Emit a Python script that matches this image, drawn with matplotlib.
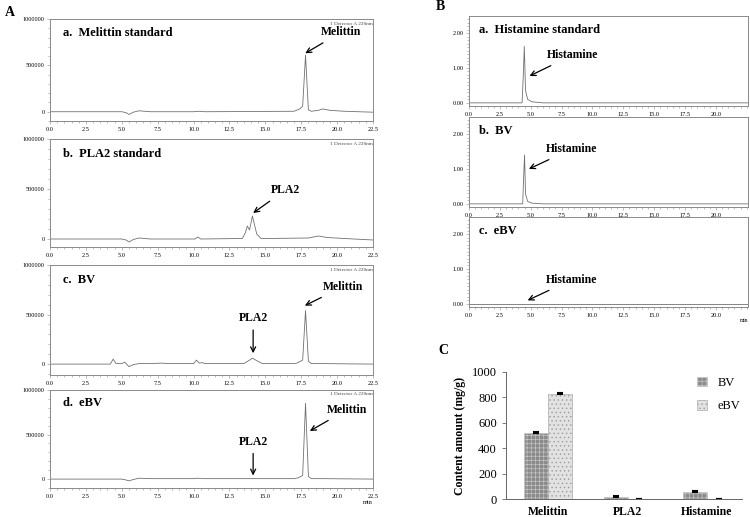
import matplotlib.pyplot as plt
from matplotlib.ticker import MultipleLocator, FixedLocator

plt.rcParams['font.family'] = ['Liberation Serif', 'DejaVu Serif']

# ---- panel A chromatograms (time in min, signal) ----
t_mel_std = [0, 5.0, 5.3, 5.5, 5.8, 6.2, 7.0, 10.0, 10.4, 10.8, 17.0, 17.4, 17.6, 17.8, 18.0, 18.2, 18.7, 19.0, 19.5, 20.5, 22.5]
y_mel_std = [0, 0, -10000, -30000, -5000, 10000, 0, 0, 5000, 0, 5000, 30000, 60000, 610000, 20000, 5000, 15000, 30000, 15000, 5000, -5000]

t_pla_std = [0, 5.0, 5.3, 5.5, 5.8, 6.2, 7.0, 10.1, 10.3, 10.5, 13.4, 13.6, 13.75, 13.9, 14.1, 14.4, 14.7, 15.2, 18.0, 18.7, 19.3, 20.5, 22.5]
y_pla_std = [0, 0, -10000, -30000, -5000, 10000, 0, 0, 20000, 0, 5000, 60000, 130000, 90000, 230000, 50000, 5000, 5000, 10000, 30000, 15000, 5000, -10000]

t_bv = [0, 4.2, 4.4, 4.6, 5.0, 5.2, 5.5, 5.8, 6.2, 7.0, 7.8, 8.2, 10.0, 10.2, 10.4, 10.6, 10.8, 13.5, 13.9, 14.1, 14.4, 14.8, 17.0, 17.2, 17.6, 17.8, 18.0, 18.2, 19.0, 22.5]
y_bv = [0, 0, 50000, 5000, 5000, 20000, -25000, -5000, 5000, 5000, 10000, 5000, 5000, 40000, 10000, 15000, 5000, 5000, 40000, 60000, 35000, 5000, 5000, 10000, 40000, 540000, 30000, 5000, 5000, 0]

t_ebv = [0, 5.0, 5.3, 5.5, 5.8, 6.2, 7.0, 10.0, 10.3, 10.6, 17.0, 17.3, 17.6, 17.8, 18.0, 18.2, 19.0, 22.5]
y_ebv = [0, 0, -10000, -20000, -5000, 10000, 5000, 5000, 10000, 5000, 5000, 15000, 40000, 850000, 30000, 5000, 5000, 0]

# ---- panel B chromatograms (histamine) ----
t_his_std = [0, 4.30, 4.40, 4.48, 4.58, 4.75, 5.1, 6.0, 22.6]
y_his_std = [0.0, 0.0, 0.8, 1.62, 0.35, 0.1, 0.03, 0.0, 0.0]
t_his_bv = [0, 4.35, 4.42, 4.50, 4.58, 4.75, 5.1, 6.0, 22.6]
y_his_bv = [0.0, 0.0, 0.7, 1.40, 0.28, 0.07, 0.02, 0.0, 0.0]
t_his_ebv = [0, 22.6]
y_his_ebv = [0.0, 0.0]

# ---- panel C content amounts ----
compounds = ['Melittin', 'PLA2', 'Histamine']
bv_amount = [522, 18, 58]
ebv_amount = [830, 0, 1]
bv_err = [5, 4, 3]
ebv_err = [5, 0, 0]

W, H = 750, 517
fig = plt.figure(figsize=(7.5, 5.17), dpi=100)


def rect(l, t, r, b):
    return [l / W, 1 - b / H, (r - l) / W, (b - t) / H]


trace_col = '#707070'
spine_col = '#8a8a8a'


def style_chrom(ax, xlim, ylim, xmaj, xmin_, ymaj, ymin_, yfmt):
    ax.set_xlim(*xlim)
    ax.set_ylim(*ylim)
    ax.xaxis.set_major_locator(FixedLocator(xmaj))
    ax.xaxis.set_minor_locator(MultipleLocator(xmin_))
    ax.yaxis.set_major_locator(FixedLocator(ymaj))
    ax.yaxis.set_minor_locator(MultipleLocator(ymin_))
    ax.set_xticklabels(['%.1f' % v for v in xmaj])
    ax.set_yticklabels([yfmt(v) for v in ymaj])
    ax.tick_params(which='both', labelsize=4.5, width=0.4, color=spine_col, pad=1.5)
    ax.tick_params(which='major', length=2.5)
    ax.tick_params(which='minor', length=1.5)
    for s in ax.spines.values():
        s.set_color(spine_col)
        s.set_linewidth(0.7)


def arrow(ax, text, xytext, xy, fs=8.5):
    ax.annotate(text, xy=xy, xytext=xytext, ha='center', va='center',
                fontsize=fs, fontweight='bold',
                arrowprops=dict(arrowstyle='->', color='black', lw=0.9,
                                shrinkA=3, shrinkB=0, mutation_scale=9))


def down_arrow(ax, text, xytext, xy):
    ax.annotate(text, xy=xy, xytext=xytext, ha='center', va='bottom',
                fontsize=8.5, fontweight='bold',
                arrowprops=dict(arrowstyle='->', color='black', lw=0.9,
                                shrinkA=2, shrinkB=0, mutation_scale=9))


xA = [0, 2.5, 5, 7.5, 10, 12.5, 15, 17.5, 20, 22.5]
yA = [0, 500000, 1000000]
fmtA = lambda v: '%d' % v

panelA = [
    (t_mel_std, y_mel_std, (19, 121), -100000, 'a.  Melittin standard'),
    (t_pla_std, y_pla_std, (139, 247), -80000, 'b.  PLA2 standard'),
    (t_bv, y_bv, (265, 375), -110000, 'c.  BV'),
    (t_ebv, y_ebv, (390, 488), -100000, 'd.  eBV'),
]
axA = []
for t, y, (top, bot), ylo, title in panelA:
    ax = fig.add_axes(rect(50, top, 373, bot))
    ax.plot(t, y, color=trace_col, lw=0.6)
    style_chrom(ax, (0, 22.5), (ylo, 1000000), xA, 0.5, yA, 100000, fmtA)
    ax.text(0.9, 850000, title, fontsize=9, fontweight='bold', va='center')
    ax.text(0.998, 0.975, '1 Detector A 220nm', transform=ax.transAxes,
            ha='right', va='top', fontsize=3.8, color='#444444')
    axA.append(ax)

arrow(axA[0], 'Melittin', (20.3, 860000), (17.78, 630000))
arrow(axA[1], 'PLA2', (16.4, 490000), (14.15, 260000))
arrow(axA[2], 'Melittin', (20.4, 780000), (17.75, 590000))
down_arrow(axA[2], 'PLA2', (14.15, 400000), (14.15, 110000))
arrow(axA[3], 'Melittin', (20.7, 780000), (18.1, 540000))
down_arrow(axA[3], 'PLA2', (14.15, 350000), (14.15, 40000))
axA[3].text(1.0, -0.12, 'min', transform=axA[3].transAxes, ha='right', va='top', fontsize=4.5)

# ---- panel B ----
xB = [0, 2.5, 5, 7.5, 10, 12.5, 15, 17.5, 20]
yB = [0, 1, 2]
fmtB = lambda v: '%.2f' % v
panelB = [
    (t_his_std, y_his_std, (16, 106), 'a.  Histamine standard'),
    (t_his_bv, y_his_bv, (117, 207), 'b.  BV'),
    (t_his_ebv, y_his_ebv, (217, 307), 'c.  eBV'),
]
axB = []
for t, y, (top, bot), title in panelB:
    ax = fig.add_axes(rect(469, top, 748, bot))
    ax.plot(t, y, color=trace_col, lw=0.6)
    style_chrom(ax, (0, 22.6), (-0.09, 2.49), xB, 0.5, yB, 0.1, fmtB)
    ax.text(0.8, 2.08, title, fontsize=9, fontweight='bold', va='center')
    axB.append(ax)

arrow(axB[0], 'Histamine', (8.4, 1.37), (4.9, 0.77))
arrow(axB[1], 'Histamine', (8.3, 1.57), (4.85, 1.0))
arrow(axB[2], 'Histamine', (8.3, 0.69), (4.75, 0.1))
axB[2].text(1.0, -0.12, 'min', transform=axB[2].transAxes, ha='right', va='top', fontsize=4)

# ---- panel C ----
plt.rcParams['hatch.linewidth'] = 0.5
axC = fig.add_axes(rect(506, 372, 742, 499))
pos = list(range(len(compounds)))
w = 0.3
ekw = dict(ecolor='black', elinewidth=1, capsize=2, capthick=1.5)
axC.bar([p - w / 2 for p in pos], bv_amount, w, yerr=bv_err, color='#8a8a8a',
        edgecolor='#c4c4c4', hatch='++++', lw=0.4, label='BV', error_kw=ekw)
axC.bar([p + w / 2 for p in pos], ebv_amount, w, yerr=ebv_err, color='#e2e2e2',
        edgecolor='#9c9c9c', hatch='....', lw=0.4, label='eBV', error_kw=ekw)
axC.set_xlim(-0.53, 2.44)
axC.set_ylim(0, 1000)
axC.set_yticks([0, 200, 400, 600, 800, 1000])
axC.set_xticks(pos)
axC.set_xticklabels(compounds, fontsize=8.5, fontweight='bold')
axC.tick_params(axis='y', labelsize=9, length=3, width=0.6, color='#666666')
axC.tick_params(axis='x', length=0, pad=5)
axC.set_ylabel('Content amount (mg/g)', fontsize=8.5, fontweight='bold')
for s in ['top', 'right']:
    axC.spines[s].set_visible(False)
for s in ['left', 'bottom']:
    axC.spines[s].set_color('#666666')
    axC.spines[s].set_linewidth(0.7)
axC.legend(loc='upper right', bbox_to_anchor=(1.04, 1.05), frameon=False, fontsize=9,
           handlelength=0.8, handleheight=0.8, labelspacing=0.9, handletextpad=0.8)

# panel letters
fig.text(5 / W, 1 - 12 / H, 'A', fontsize=10, fontweight='bold', va='center')
fig.text(436 / W, 1 - 6 / H, 'B', fontsize=10, fontweight='bold', va='center')
fig.text(438 / W, 1 - 351 / H, 'C', fontsize=10, fontweight='bold', va='center')

fig.savefig('out.png', dpi=100)
